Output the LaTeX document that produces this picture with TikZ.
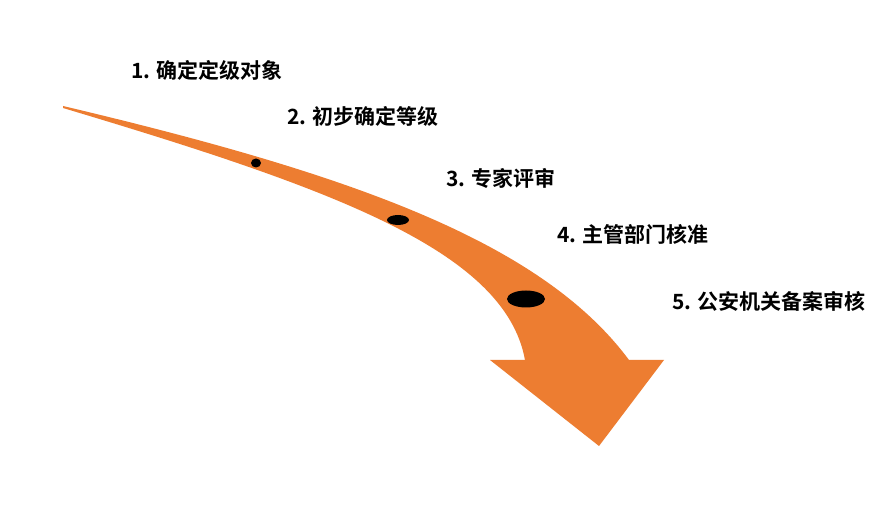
\documentclass[tikz,border=0pt]{standalone}
\usepackage{fontspec}
\newfontfamily\cjk{Noto Sans CJK SC}[BoldFont={* Bold}]
\usetikzlibrary{shapes.geometric}
\definecolor{arroworange}{HTML}{ED7D31}
\tikzset{
  lbl/.style={font=\cjk\bfseries\fontsize{21pt}{25pt}\selectfont, text=black, inner sep=0pt, anchor=base west},
  dot/.style={ellipse, fill=black, inner sep=0pt, draw=none},
  arrowbody/.style={fill=arroworange, draw=none}
}
\begin{document}
\begin{tikzpicture}[x=1pt,y=-1pt]
\useasboundingbox (0,0) rectangle (895,510);
\fill[white] (0,0) rectangle (895,510);
% curved arrow
\fill[arrowbody]
  (63,106) .. controls (346,173) and (540,240) .. (629,360)
  -- (664,360) -- (599,446) -- (490,360) -- (525,360)
  .. controls (505,250) and (330,188) .. (63,108)
  -- cycle;
% dots
\node[dot, minimum width=10pt, minimum height=9pt] (d1) at (256,163) {};
\node[dot, minimum width=22pt, minimum height=10pt] (d2) at (398,220) {};
\node[dot, minimum width=38pt, minimum height=17pt] (d3) at (526,299) {};
% labels
\node[lbl] (l1) at (131,79) {1. 确定定级对象};
\node[lbl] (l2) at (287,125) {2. 初步确定等级};
\node[lbl] (l3) at (446,187) {3. 专家评审};
\node[lbl] (l4) at (557,243) {4. 主管部门核准};
\node[lbl] (l5) at (672,309.5) {5. 公安机关备案审核};
\end{tikzpicture}
\end{document}
